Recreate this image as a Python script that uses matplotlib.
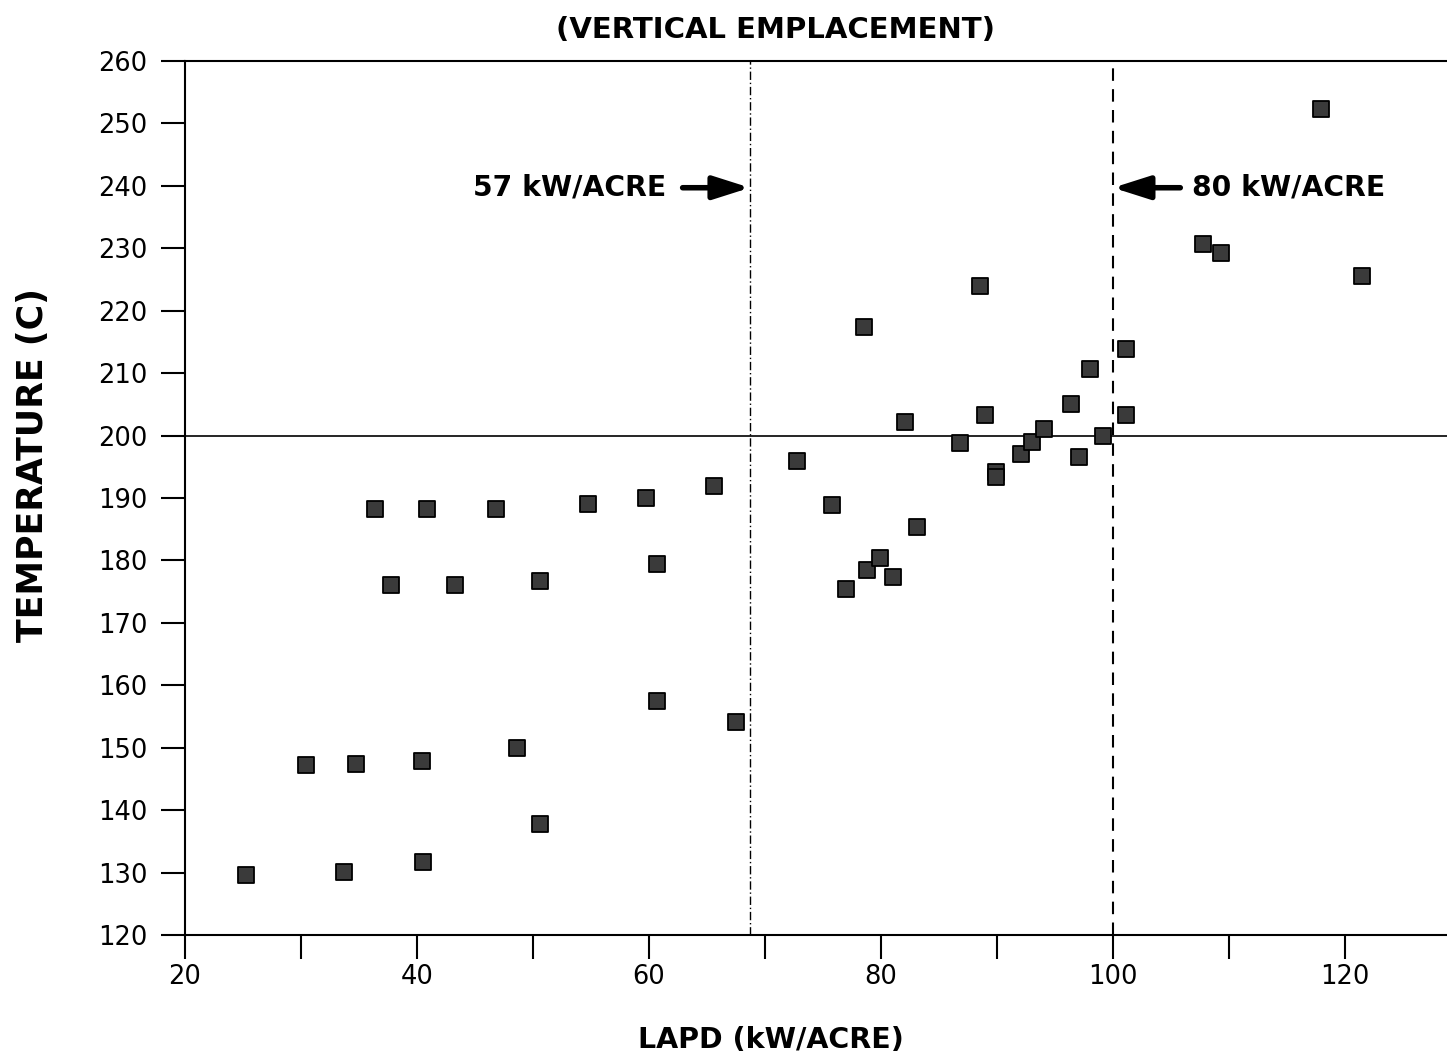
import matplotlib
matplotlib.use("Agg")
import matplotlib.pyplot as plt
from matplotlib.ticker import MultipleLocator, FuncFormatter

plt.rcParams['font.family'] = ['DejaVu Sans']

# Data
lapd = [25.3, 30.4, 34.7, 33.7, 36.4, 37.8, 40.9, 40.4, 40.5, 43.3, 46.8, 48.6,
        50.6, 50.6, 54.7, 59.7, 60.7, 60.7, 65.6, 67.5, 72.8, 75.8, 77.0, 78.5,
        78.8, 79.9, 81.0, 82.1, 83.1, 86.8, 88.5, 89.0, 89.9, 89.9, 92.1, 93.0,
        94.05, 96.4, 97.1, 98.0, 99.1, 101.1, 101.1, 107.8, 109.3, 117.9, 121.5]
temp = [129.6, 147.2, 147.4, 130.1, 188.2, 176.1, 188.2, 147.9, 131.7, 176.1,
        188.2, 150.0, 176.7, 137.8, 189.0, 190.0, 179.4, 157.5, 191.9, 154.1,
        195.9, 188.9, 175.4, 217.4, 178.5, 180.4, 177.3, 202.2, 185.4, 198.8,
        224.0, 203.3, 194.2, 193.3, 197.0, 199.0, 201.05, 205.1, 196.6, 210.7,
        199.9, 213.9, 203.3, 230.7, 229.2, 252.3, 225.6]

ref_temp = 200
line_57 = 68.7
line_80 = 100
x_ticks_labeled = [20, 40, 60, 80, 100, 120]

W, H = 1447, 1062
fig = plt.figure(figsize=(W/100, H/100), dpi=100)
ax = fig.add_axes([185/W, 127/H, 1262/W, 874/H])

ax.scatter(lapd, temp, marker='s', s=125, facecolor='#3a3a3a', edgecolor='black',
           linewidths=1.3, zorder=3)

ax.axhline(ref_temp, color='black', lw=1.2, zorder=2)
ax.axvline(line_57, color='black', lw=1.0, linestyle=(0, (6, 2, 1, 2)), zorder=2)
ax.axvline(line_80, color='black', lw=1.5, linestyle=(0, (6, 4)), zorder=2)

ax.set_xlim(20, 20 + 1262/11.6)
ax.set_ylim(120, 260)

ax.xaxis.set_major_locator(MultipleLocator(10))
ax.xaxis.set_major_formatter(FuncFormatter(lambda v, p: f"{int(round(v))}" if int(round(v)) in x_ticks_labeled else ""))
ax.yaxis.set_major_locator(MultipleLocator(10))
ax.tick_params(axis='both', direction='out', length=17, width=1.5, labelsize=18.5)
ax.tick_params(axis='x', pad=4)
ax.tick_params(axis='y', pad=10)

ax.spines['right'].set_visible(False)
for s in ['left', 'bottom', 'top']:
    ax.spines[s].set_linewidth(1.5)

fig.text(771/W, 1 - 1040/H, 'LAPD (kW/ACRE)', ha='center', va='center',
         fontsize=20.5, fontweight='bold')
fig.text(33/W, 1 - 465/H, 'TEMPERATURE (C)', ha='center', va='center', rotation=90,
         fontsize=25, fontweight='bold')
fig.text(775/W, 1 - 30/H, '(VERTICAL EMPLACEMENT)', ha='center', va='center',
         fontsize=21, fontweight='bold')

# Annotations
arrow_kw = dict(arrowstyle='-|>,head_length=1.1,head_width=0.35', lw=4, color='black',
                mutation_scale=20, shrinkA=0, shrinkB=0)
ax.annotate('', xy=(line_57, 239.7), xytext=(62.9, 239.7), arrowprops=arrow_kw)
ax.text(61.5, 239.7, '57 kW/ACRE', ha='right', va='center', fontsize=20.3, fontweight='bold')
ax.annotate('', xy=(line_80, 239.7), xytext=(105.8, 239.7), arrowprops=arrow_kw)
ax.text(106.8, 239.7, '80 kW/ACRE', ha='left', va='center', fontsize=20.3, fontweight='bold')

fig.savefig('out.png', dpi=100)
